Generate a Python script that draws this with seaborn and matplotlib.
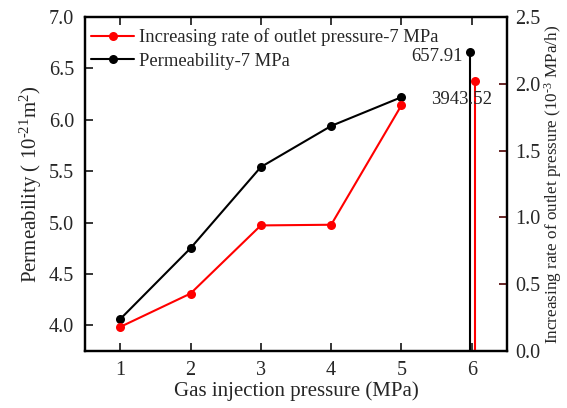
import matplotlib
matplotlib.use("Agg")
import matplotlib.pyplot as plt
from matplotlib.lines import Line2D
import seaborn as sns
import pandas as pd

# Gas injection pressure (MPa) and measured series
pressure = [1, 2, 3, 4, 5]
permeability = [4.06, 4.75, 5.54, 5.94, 6.22]          # 10^-21 m^2
outlet_rate = [0.18, 0.43, 0.94, 0.945, 1.84]          # 10^-3 MPa/h

# 6 MPa results are off-scale: drawn as stems with their values written beside them
stem_x_perm = 5.97
stem_y_perm = 6.66
stem_label_perm = "657.91"
stem_x_rate = 6.05
stem_y_rate = 2.02
stem_label_rate = "3943.52"

left_ticks = [4.0, 4.5, 5.0, 5.5, 6.0, 6.5, 7.0]
right_ticks = [0.0, 0.5, 1.0, 1.5, 2.0, 2.5]
x_ticks = [1, 2, 3, 4, 5, 6]

sns.set_theme(style="ticks")
plt.rcParams["font.family"] = ["Liberation Serif", "DejaVu Serif"]
plt.rcParams["mathtext.fontset"] = "custom"
plt.rcParams["mathtext.rm"] = "Liberation Serif"
plt.rcParams["mathtext.it"] = "Liberation Serif:italic"
plt.rcParams["mathtext.bf"] = "Liberation Serif:bold"

df = pd.DataFrame({"p": pressure, "k": permeability, "r": outlet_rate})

fig = plt.figure(figsize=(5.67, 4.08), dpi=100)
ax = fig.add_axes([85 / 567, 1 - 351 / 408, (507 - 85) / 567, (351 - 17) / 408])
ax2 = ax.twinx()

sns.lineplot(data=df, x="p", y="k", ax=ax, color="black", marker="o",
             markersize=6.5, markeredgewidth=0, linewidth=1.5)
sns.lineplot(data=df, x="p", y="r", ax=ax2, color="red", marker="o",
             markersize=6.5, markeredgewidth=0, linewidth=1.5)

# stems for the 6 MPa values
ax.vlines(stem_x_perm, 3.75, stem_y_perm, color="black", linewidth=1.5)
ax.plot([stem_x_perm], [stem_y_perm], "o", color="black", markersize=6.5, markeredgewidth=0)
ax2.vlines(stem_x_rate, 0, stem_y_rate, color="red", linewidth=1.5)
ax2.plot([stem_x_rate], [stem_y_rate], "o", color="red", markersize=6.5, markeredgewidth=0)
ax.text(5.87, 6.62, stem_label_perm, ha="right", va="center", fontsize=13.5)
ax2.text(5.86, 1.88, stem_label_rate, ha="center", va="center", fontsize=13.5)

ax.set_xlim(0.5, 6.5)
ax.set_ylim(3.75, 7.0)
ax2.set_ylim(0.0, 2.5)
ax.set_xticks(x_ticks)
ax.set_yticks(left_ticks)
ax2.set_yticks(right_ticks)
ax.set_xticklabels([str(v) for v in x_ticks])
ax.set_yticklabels([f"{v:.1f}" for v in left_ticks])
ax2.set_yticklabels([f"{v:.1f}" for v in right_ticks])

ax.tick_params(axis="both", direction="in", length=6, width=1.3, labelsize=14.5,
               top=True, pad=8)
ax.tick_params(axis="x", pad=7)
ax2.tick_params(axis="y", direction="in", length=6, width=1.3, labelsize=14.5,
                color="#5a1414", pad=6)

for a in (ax, ax2):
    for s in a.spines.values():
        s.set_linewidth(1.6)
        s.set_color("black")

ax.set_xlabel("Gas injection pressure (MPa)", fontsize=15, labelpad=1)
ax.set_ylabel("Permeability ( 10$^{\u201021}$m$^{2}$)", fontsize=15, labelpad=3)
ax2.set_ylabel("Increasing rate of outlet pressure (10$^{\u20103}$ MPa/h)",
               fontsize=12.3, labelpad=1)

handles = [
    Line2D([], [], color="red", marker="o", markersize=6.5, markeredgewidth=0, linewidth=1.5),
    Line2D([], [], color="black", marker="o", markersize=6.5, markeredgewidth=0, linewidth=1.5),
]
ax.legend(handles, ["Increasing rate of outlet pressure-7 MPa", "Permeability-7 MPa"],
          loc="upper left", bbox_to_anchor=(-0.012, 1.0), frameon=False, fontsize=13.4,
          handlelength=2.3, handletextpad=0.3, labelspacing=0.35, borderaxespad=0.2)

fig.savefig("out.png", dpi=100)
